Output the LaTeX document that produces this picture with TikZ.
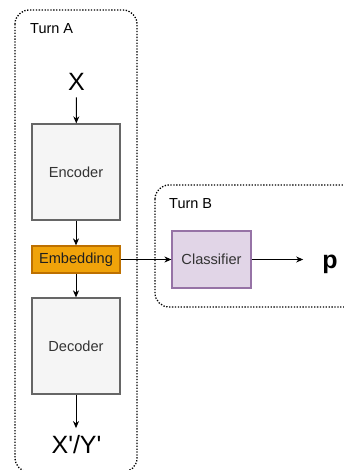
\documentclass[tikz,border=0pt]{standalone}
\usepackage{fontspec}
\setmainfont{Liberation Sans}
\usetikzlibrary{arrows.meta}

\definecolor{boxfill}{HTML}{F5F5F5}
\definecolor{boxline}{HTML}{666666}
\definecolor{boxtext}{HTML}{333333}
\definecolor{embfill}{HTML}{F0A30A}
\definecolor{embline}{HTML}{BD7000}
\definecolor{clsfill}{HTML}{E1D5E7}
\definecolor{clsline}{HTML}{9673A6}

\begin{document}
\begin{tikzpicture}[x=1pt, y=-1pt,
  turnbox/.style={draw=black, line width=1.3pt, dash pattern=on 1.3pt off 1.6pt, rounded corners=14pt},
  turnlabel/.style={anchor=base west, inner sep=0pt, font=\fontsize{14.5}{17}\selectfont},
  block/.style={draw=boxline, fill=boxfill, line width=1.2pt, text=boxtext, inner sep=0pt,
    minimum width=88pt, minimum height=96pt, font=\fontsize{14.6}{17}\selectfont},
  embbox/.style={draw=embline, fill=embfill, line width=1.2pt, text=boxtext!60!black, inner sep=0pt,
    minimum width=88pt, minimum height=27pt, font=\fontsize{14.6}{17}\selectfont},
  clsbox/.style={draw=clsline, fill=clsfill, line width=1.2pt, text=boxtext, inner sep=0pt,
    minimum width=79pt, minimum height=57pt, font=\fontsize{14.6}{17}\selectfont},
  biglabel/.style={inner sep=0pt, font=\fontsize{25}{30}\selectfont},
  arr/.style={draw=black, line width=1pt, -{Stealth[length=7pt, width=6pt, inset=2.2pt]}}
]
\useasboundingbox (0,0) rectangle (344,470);
\clip (0,0) rectangle (344,470);

% dotted group frames
\draw[turnbox] (15,10) rectangle (137,472);
\draw[turnbox] (155,185) rectangle (362,307);
\node[turnlabel] (ta) at (30,34) {Turn A};
\node[turnlabel] (tb) at (169,208.5) {Turn B};

% Turn A pipeline
\node[biglabel] (x) at (76.5,81.5) {X};
\node[block] (enc) at (76,172) {Encoder};
\node[embbox] (emb) at (76,259.5) {Embedding};
\node[block] (dec) at (76,346) {Decoder};
\node[biglabel] (xy) at (76.5,444.5) {X\textquotesingle/Y\textquotesingle};

% Turn B
\node[clsbox] (cls) at (211.5,259.5) {Classifier};
\node[biglabel, font=\fontsize{25}{30}\selectfont\bfseries] (p) at (330,264) {p};

% connectors
\draw[arr, shorten <=7pt] (x) -- (enc);
\draw[arr] (enc) -- (emb);
\draw[arr] (emb) -- (dec);
\draw[arr, shorten >=7pt] (dec) -- (xy.north -| dec.south);
\draw[arr] (emb) -- (cls);
\draw[arr, shorten >=19pt] (cls) -- (cls.east -| p.west);
\end{tikzpicture}
\end{document}
